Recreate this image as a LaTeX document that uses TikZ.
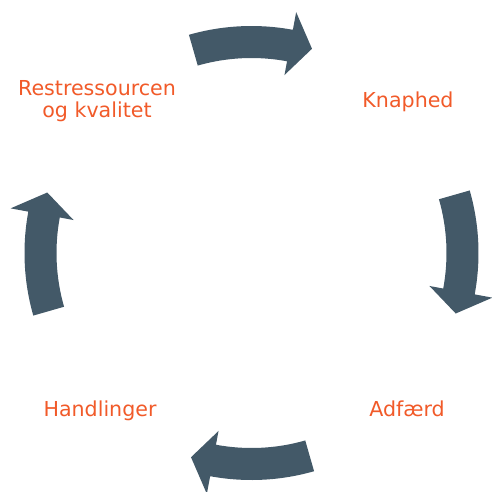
\documentclass[tikz,border=0pt]{standalone}
\usepackage{fontspec}
\setmainfont{DejaVu Sans}
\usetikzlibrary{calc}
\definecolor{arrowcol}{RGB}{67,89,104}
\definecolor{txtcol}{RGB}{241,90,41}
\tikzset{
  lbl/.style={text=txtcol, font=\fontsize{20.6}{22}\selectfont, inner sep=0pt, align=center},
  cyclearrow/.style={fill=arrowcol, draw=none}
}
\newcommand{\cyclearr}[1]{%
  \fill[cyclearrow] (#1+16:227pt) arc[start angle=#1+16, end angle=#1-10.5, radius=227pt]
    -- (#1-10.5:245pt) -- (#1-16.5:213pt) -- (#1-10.5:181pt) -- (#1-10.5:195pt)
    arc[start angle=#1-10.5, end angle=#1+16, radius=195pt] -- cycle;}
\begin{document}
\begin{tikzpicture}[x=1pt,y=1pt]
\useasboundingbox (0,0) rectangle (492,-491);
\begin{scope}[shift={(251.5pt,-253pt)}]
  \cyclearr{90}
  \cyclearr{0}
  \cyclearr{-90}
  \cyclearr{180}
\end{scope}
\node[lbl, anchor=center] (rk) at (97,-101.5) {Restressourcen\\og kvalitet};
\node[lbl, anchor=base] (kn) at (408,-107) {Knaphed};
\node[lbl, anchor=base] (ad) at (407,-416) {Adfærd};
\node[lbl, anchor=base] (ha) at (100,-416) {Handlinger};
\end{tikzpicture}
\end{document}
